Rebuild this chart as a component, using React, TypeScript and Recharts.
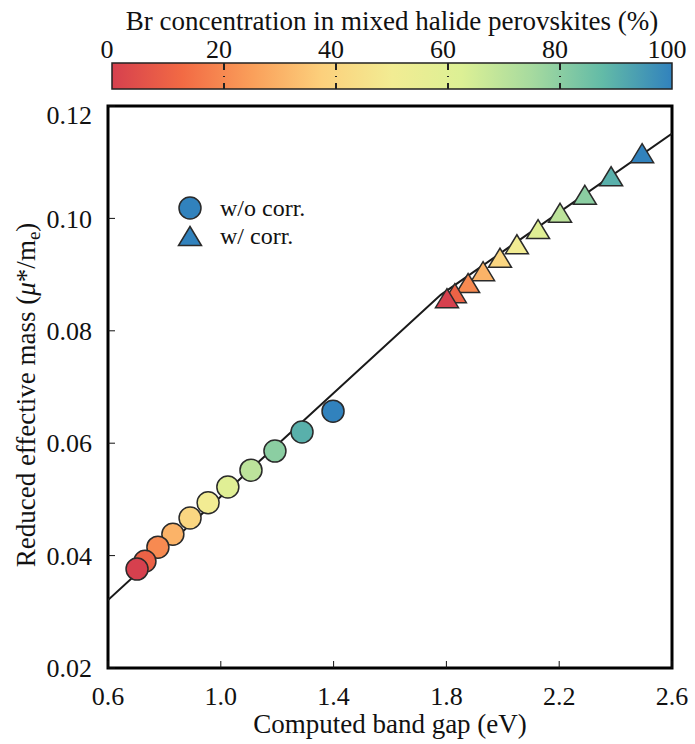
import {
  ComposedChart,
  BarChart,
  Bar,
  XAxis,
  YAxis,
  Line,
  Scatter,
  ReferenceArea,
  ReferenceLine,
} from 'recharts';

// Br content (%) of each mixed halide composition, same for both series
const brPercent = [0, 10, 20, 30, 40, 50, 60, 70, 80, 90, 100];

// w/o correction (circles)
const gapNoCorr = [0.703, 0.731, 0.777, 0.83, 0.891, 0.955, 1.025, 1.107, 1.192, 1.288, 1.398];
const massNoCorr = [0.0376, 0.039, 0.0415, 0.0438, 0.0467, 0.0494, 0.0522, 0.0552, 0.0586, 0.062, 0.0657];

// w/ correction (triangles)
const gapCorr = [1.802, 1.83, 1.877, 1.93, 1.99, 2.05, 2.125, 2.203, 2.291, 2.384, 2.494];
const massCorr = [0.0858, 0.0867, 0.0885, 0.0906, 0.093, 0.0954, 0.0981, 0.101, 0.1042, 0.1075, 0.1116];

// guide line
const fitGap = [0.6, 1.78, 2.6];
const fitMass = [0.0321, 0.0864, 0.1151];

const xTicks = [0.6, 1.0, 1.4, 1.8, 2.2, 2.6];
const yTicks = [0.02, 0.04, 0.06, 0.08, 0.1, 0.12];
const barTicks = [0, 20, 40, 60, 80, 100];

const FONT = "'Liberation Serif'";
const INK = '#111';
const EDGE = '#2a2a2a';

// colormap (red -> blue, Spectral-like)
const cmap: [number, string][] = [
  [0, '#d6404e'],
  [12.5, '#f26a44'],
  [25, '#fa9f5a'],
  [37.5, '#fcd07c'],
  [50, '#f2ec93'],
  [62.5, '#dcf095'],
  [75, '#a6da9f'],
  [87.5, '#63bba7'],
  [100, '#3182bd'],
];

function hex(c: string) {
  return [1, 3, 5].map((i) => parseInt(c.slice(i, i + 2), 16));
}

function colorAt(p: number) {
  for (let i = 1; i < cmap.length; i++) {
    const [p1, c1] = cmap[i];
    const [p0, c0] = cmap[i - 1];
    if (p <= p1) {
      const t = (p - p0) / (p1 - p0);
      const a = hex(c0);
      const b = hex(c1);
      const m = a.map((v, k) => Math.round(v + (b[k] - v) * t));
      return `rgb(${m[0]},${m[1]},${m[2]})`;
    }
  }
  return cmap[cmap.length - 1][1];
}

const noCorrData = brPercent.map((br, i) => ({ br, gap: gapNoCorr[i], mass: massNoCorr[i] })).reverse();
const corrData = brPercent.map((br, i) => ({ br, gap: gapCorr[i], mass: massCorr[i] })).reverse();
const fitData = fitGap.map((gap, i) => ({ gap, mass: fitMass[i] }));
const barData = [{ name: 'br', value: 100 }];

const CircleMark = (props: any) => (
  <circle cx={props.cx} cy={props.cy} r={11} fill={colorAt(props.payload.br)} stroke={EDGE} strokeWidth={1.5} />
);

const TriangleMark = (props: any) => {
  const { cx, cy } = props;
  const w = 11.5;
  const h = 9.5;
  return (
    <path
      d={`M${cx},${cy - h} L${cx + w},${cy + h} L${cx - w},${cy + h} Z`}
      fill={colorAt(props.payload.br)}
      stroke={EDGE}
      strokeWidth={1.5}
    />
  );
};

const BarTick = (p: any) => (
  <text x={p.x - 5} y={p.y} textAnchor="middle" fontSize={26} style={{ fontFamily: FONT }} fill={INK}>
    {p.payload.value}
  </text>
);

const XTitle = (p: any) => {
  const vb = p.viewBox;
  return (
    <text x={vb.x + vb.width / 2} y={vb.y + 65} textAnchor="middle" fontSize={27} style={{ fontFamily: FONT }} fill={INK}>
      Computed band gap (eV)
    </text>
  );
};

const YTitle = () => (
  <text
    x={35}
    y={295}
    transform="rotate(-90 35 295)"
    textAnchor="middle"
    fontSize={27}
    style={{ fontFamily: FONT }}
    fill={INK}
  >
    Reduced effective mass (<tspan fontStyle="italic">μ</tspan>*/m
    <tspan dy={5} fontSize={19}>e</tspan>
    <tspan dy={-5}>)</tspan>
  </text>
);

const LegendBox = () => (
  <div
    style={{
      position: 'absolute',
      left: 176,
      top: 194,
      fontFamily: FONT,
      fontSize: 24,
      color: INK,
      lineHeight: '28px',
    }}
  >
    <div style={{ display: 'flex', alignItems: 'center' }}>
      <svg width={28} height={28}>
        <circle cx={14} cy={14} r={11} fill="#3182bd" stroke={EDGE} strokeWidth={1.5} />
      </svg>
      <span style={{ marginLeft: 16 }}>w/o corr.</span>
    </div>
    <div style={{ display: 'flex', alignItems: 'center' }}>
      <svg width={28} height={28}>
        <path d="M14,4.5 L25.5,23.5 L2.5,23.5 Z" fill="#3182bd" stroke={EDGE} strokeWidth={1.5} />
      </svg>
      <span style={{ marginLeft: 16 }}>w/ corr.</span>
    </div>
  </div>
);

const tickStyle = { fontSize: 26, fill: INK, style: { fontFamily: FONT } };

export default function App() {
  return (
    <div style={{ position: 'absolute', left: 0, top: 0, width: 695, height: 744, background: '#fff', fontFamily: FONT }}>
      <div
        style={{
          position: 'absolute',
          left: 112,
          width: 560,
          top: 6,
          textAlign: 'center',
          fontSize: 27,
          color: INK,
          whiteSpace: 'nowrap',
        }}
      >
        Br concentration in mixed halide perovskites (%)
      </div>

      <div style={{ position: 'absolute', left: 0, top: 0 }}>
        <BarChart
          width={695}
          height={100}
          data={barData}
          layout="vertical"
          margin={{ top: 30, right: 23, bottom: 11, left: 112 }}
          barCategoryGap={0}
          style={{ fontFamily: FONT }}
        >
          <defs>
            <linearGradient id="spectral" x1="0" y1="0" x2="1" y2="0">
              {cmap.map(([p, c]) => (
                <stop key={p} offset={`${p}%`} stopColor={c} />
              ))}
            </linearGradient>
          </defs>
          <XAxis
            type="number"
            orientation="top"
            domain={[0, 100]}
            ticks={barTicks}
            height={33}
            axisLine={false}
            tickLine={false}
            tickSize={0}
            tickMargin={5}
            tick={<BarTick />}
          />
          <YAxis type="category" dataKey="name" hide />
          <Bar dataKey="value" fill="url(#spectral)" stroke="#222" strokeWidth={1.5} isAnimationActive={false} />
          {barTicks.slice(1, -1).map((t) => (
            <ReferenceLine key={t} x={t} stroke="#222" strokeWidth={2} strokeDasharray="7 6 1 6 7" />
          ))}
        </BarChart>
      </div>

      <div style={{ position: 'absolute', left: 0, top: 100 }}>
        <ComposedChart
          width={695}
          height={644}
          margin={{ top: 6, right: 23, bottom: 36, left: 8 }}
          style={{ fontFamily: FONT }}
        >
          <XAxis
            xAxisId="b"
            type="number"
            dataKey="gap"
            domain={[0.6, 2.6]}
            ticks={xTicks}
            allowDataOverflow
            tickFormatter={(v: number) => v.toFixed(1)}
            height={40}
            axisLine={false}
            tickSize={-7}
            tickMargin={26}
            tickLine={{ stroke: INK, strokeWidth: 1 }}
            tick={tickStyle}
            label={{ content: XTitle }}
          />
          <XAxis
            xAxisId="t"
            type="number"
            orientation="top"
            domain={[0.6, 2.6]}
            ticks={xTicks}
            allowDataOverflow
            height={0}
            axisLine={false}
            tickSize={-7}
            tickFormatter={() => ''}
            tickLine={{ stroke: INK, strokeWidth: 1 }}
          />
          <YAxis
            yAxisId="l"
            type="number"
            dataKey="mass"
            domain={[0.02, 0.12]}
            ticks={yTicks}
            allowDataOverflow
            tickFormatter={(v: number) => v.toFixed(2)}
            width={100}
            axisLine={false}
            tickSize={-7}
            tickMargin={23}
            tickLine={{ stroke: INK, strokeWidth: 1 }}
            tick={tickStyle}
            label={{ content: YTitle }}
          />
          <YAxis
            yAxisId="r"
            type="number"
            orientation="right"
            domain={[0.02, 0.12]}
            ticks={yTicks}
            allowDataOverflow
            width={0}
            axisLine={false}
            tickSize={-7}
            tickFormatter={() => ''}
            tickLine={{ stroke: INK, strokeWidth: 1 }}
          />
          <Line
            xAxisId="b"
            yAxisId="l"
            data={fitData}
            dataKey="mass"
            type="linear"
            stroke="#1a1a1a"
            strokeWidth={2}
            dot={false}
            activeDot={false}
            isAnimationActive={false}
          />
          <Scatter
            xAxisId="b"
            yAxisId="l"
            name="w/o corr."
            data={noCorrData}
            dataKey="mass"
            shape={CircleMark}
            isAnimationActive={false}
          />
          <Scatter
            xAxisId="b"
            yAxisId="l"
            name="w/ corr."
            data={corrData}
            dataKey="mass"
            shape={TriangleMark}
            isAnimationActive={false}
          />
          <ReferenceArea
            xAxisId="b"
            yAxisId="l"
            x1={0.6}
            x2={2.6}
            y1={0.02}
            y2={0.12}
            fill="none"
            fillOpacity={0}
            stroke="#000"
            strokeWidth={3}
            ifOverflow="visible"
          />
        </ComposedChart>
      </div>
      <LegendBox />
    </div>
  );
}
